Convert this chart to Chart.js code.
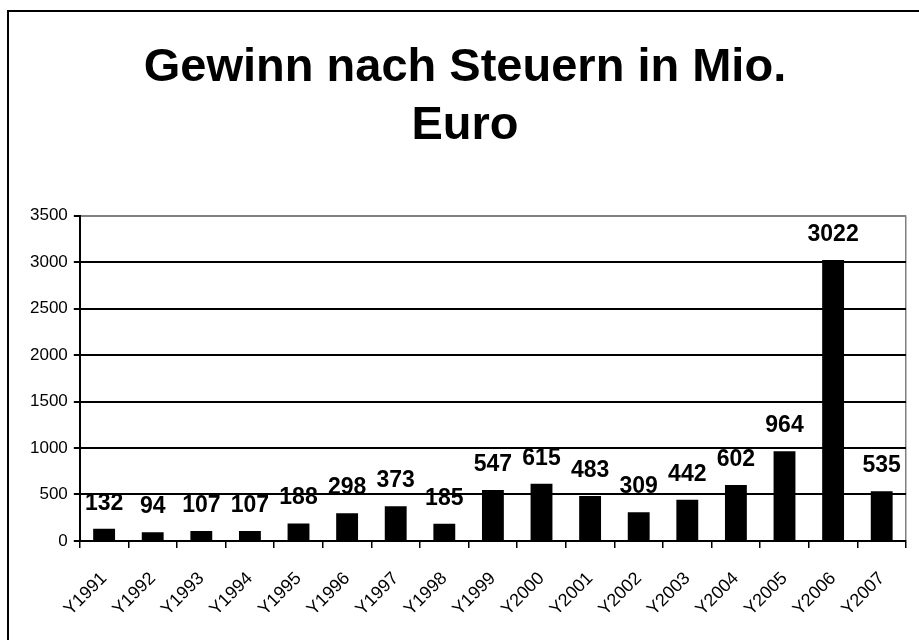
<!DOCTYPE html>
<html>
<head>
<meta charset="utf-8">
<script src="https://cdn.jsdelivr.net/npm/chart.js@4.4.0/dist/chart.umd.min.js"></script>
<style>
  html, body { margin: 0; padding: 0; background: #fff; overflow: hidden; }
  #frame { position: absolute; left: 7px; top: 10px; width: 1000px; height: 1000px; border: 2px solid #000; }
  #wrap { position: absolute; left: 0; top: 0; width: 919px; height: 640px; }
</style>
</head>
<body>
<div id="frame"></div>
<div id="wrap"><canvas id="chart"></canvas></div>
<script>
// Gewinn nach Steuern (Mio. Euro) per year
const years = ['Y1991', 'Y1992', 'Y1993', 'Y1994', 'Y1995', 'Y1996', 'Y1997', 'Y1998', 'Y1999',
               'Y2000', 'Y2001', 'Y2002', 'Y2003', 'Y2004', 'Y2005', 'Y2006', 'Y2007'];
const profit = [132, 94, 107, 107, 188, 298, 373, 185, 547, 615, 483, 309, 442, 602, 964, 3022, 535];
const titleLines = ['Gewinn nach Steuern in Mio.', 'Euro'];

const FONT = "'Liberation Sans', Arial, sans-serif";

// draws the bold value above each bar
const valueLabels = {
    id: 'valueLabels',
    afterDatasetsDraw(chart) {
        const ctx = chart.ctx;
        const meta = chart.getDatasetMeta(0);
        ctx.save();
        ctx.font = 'bold 23px ' + FONT;
        ctx.fillStyle = '#000';
        ctx.textAlign = 'center';
        ctx.textBaseline = 'alphabetic';
        meta.data.forEach((bar, i) => {
            ctx.fillText(String(profit[i]), bar.x, bar.y - 19);
        });
        ctx.restore();
    }
};

new Chart(document.getElementById('chart'), {
    type: 'bar',
    data: {
        labels: years,
        datasets: [{
            data: profit,
            backgroundColor: '#000',
            borderWidth: 0,
            barPercentage: 0.45,
            categoryPercentage: 1
        }]
    },
    options: {
        responsive: true,
        maintainAspectRatio: false,
        animation: false,
        layout: { padding: { left: 24, right: 13, top: 0, bottom: 0 } },
        plugins: {
            legend: { display: false },
            tooltip: { enabled: false },
            title: {
                display: true,
                text: titleLines,
                color: '#000',
                font: { family: FONT, size: 47, weight: 'bold', lineHeight: 1.23 },
                padding: { top: 39, bottom: 61 }
            }
        },
        scales: {
            x: {
                grid: {
                    offset: true,
                    drawOnChartArea: true,
                    color: c => c.type === 'scale' ? '#808080' : 'rgba(0,0,0,0)',
                    tickColor: '#000',
                    tickLength: 7,
                    lineWidth: 1.5
                },
                border: { color: '#000', width: 2 },
                ticks: {
                    color: '#000',
                    font: { family: FONT, size: 18 },
                    minRotation: 45,
                    maxRotation: 45,
                    autoSkip: false,
                    padding: 20
                }
            },
            y: {
                min: 0,
                max: 3500,
                grid: {
                    color: c => c.tick && c.tick.value === 3500 ? '#808080' : '#000',
                    tickColor: '#000',
                    tickLength: 6,
                    lineWidth: 2
                },
                border: { color: '#000', width: 2 },
                ticks: {
                    stepSize: 500,
                    color: '#000',
                    font: { family: FONT, size: 17 },
                    padding: 6,
                    callback: v => String(v)
                }
            }
        }
    },
    plugins: [valueLabels]
});
</script>
</body>
</html>
